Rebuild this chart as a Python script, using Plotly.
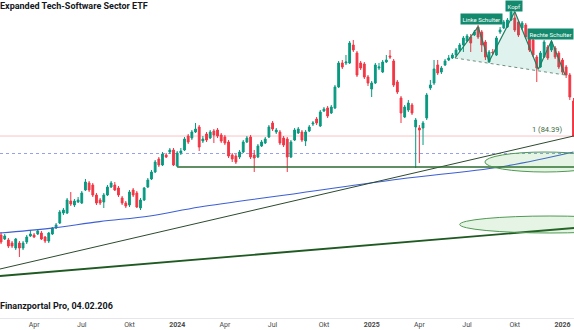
import pandas as pd
import plotly.graph_objects as go

# Weekly bars, Monday dates
weeks = pd.date_range("2023-01-30", periods=157, freq="7D")

opens = [
    59.65, 58.65, 58.4, 57.65, 56.4, 57.65, 56.4, 57.9, 59.4, 59.65,
    59.9, 60.15, 59.15, 58.15, 59.9, 61.4, 62.65, 65.15, 65.15, 68.15,
    67.15, 67.9, 67.65, 70.9, 72.65, 72.15, 69.65, 68.4, 67.9, 69.65,
    71.65, 72.15, 71.4, 68.9, 67.65, 67.15, 70.9, 70.15, 66.4, 68.4,
    71.65, 73.65, 75.4, 78.65, 77.15, 79.65, 80.4, 80.9, 76.9, 80.15,
    80.9, 84.4, 83.9, 85.4, 86.65, 83.15, 84.9, 83.9, 85.65, 85.9,
    84.65, 84.15, 82.9, 79.65, 79.4, 79.15, 80.4, 82.9, 84.15, 79.65,
    79.15, 81.9, 82.65, 84.15, 87.65, 85.4, 85.4, 83.9, 83.65, 79.15,
    83.4, 85.15, 85.4, 83.15, 85.65, 87.4, 88.65, 86.9, 90.65, 91.4,
    90.15, 91.4, 96.65, 102.65, 102.65, 102.65, 107.15, 105.15, 102.65, 102.4,
    99.15, 96.15, 97.65, 101.4, 100.4, 102.9, 104.4, 103.15, 97.9, 93.9,
    89.15, 90.9, 92.15, 86.65, 86.4, 86.4, 88.9, 96.4, 97.65, 102.15,
    100.4, 102.15, 103.4, 103.9, 104.65, 105.9, 107.15, 108.15, 109.15, 109.65,
    111.65, 110.4, 107.9, 102.9, 105.4, 104.65, 110.4, 111.4, 111.65, 113.4,
    113.9, 112.9, 111.4, 112.15, 109.15, 108.4, 104.15, 101.65, 104.15, 106.65,
    105.9, 106.4, 105.15, 103.4, 101.65, 99.65, 93.15,
]
highs = [
    60.4, 59.9, 58.9, 58.15, 58.9, 58.15, 58.15, 59.65, 60.9, 60.15,
    61.15, 60.65, 59.4, 60.4, 61.65, 62.65, 65.9, 66.4, 68.9, 70.4,
    68.65, 69.15, 70.65, 73.65, 73.15, 72.65, 70.15, 68.9, 70.15, 72.15,
    73.15, 72.9, 71.9, 69.4, 68.15, 70.9, 71.4, 70.65, 68.9, 71.65,
    73.9, 75.9, 78.4, 79.15, 80.4, 80.15, 81.4, 81.4, 80.65, 81.4,
    84.15, 84.9, 85.9, 87.65, 87.15, 84.4, 85.4, 85.9, 86.15, 86.4,
    85.15, 84.65, 83.4, 80.15, 79.9, 80.9, 83.4, 84.4, 84.65, 80.9,
    82.4, 83.4, 84.15, 87.15, 88.15, 86.4, 85.9, 84.4, 84.15, 83.4,
    86.4, 86.65, 85.9, 85.9, 87.15, 88.15, 89.15, 90.9, 91.65, 91.9,
    92.15, 97.15, 103.15, 103.4, 104.65, 108.15, 108.4, 105.65, 103.15, 102.9,
    99.65, 98.15, 102.65, 102.65, 103.4, 104.65, 105.9, 103.65, 98.4, 94.4,
    92.15, 93.4, 92.65, 88.9, 87.15, 88.15, 95.15, 98.4, 103.4, 103.4,
    101.9, 103.65, 104.65, 105.15, 106.4, 107.65, 109.4, 109.9, 109.9, 110.9,
    112.15, 110.9, 108.4, 105.9, 106.15, 109.4, 111.65, 113.4, 113.9, 115.9,
    115.4, 113.4, 113.15, 112.65, 109.65, 108.9, 104.65, 105.65, 108.4, 107.15,
    108.4, 106.9, 105.65, 103.9, 102.15, 100.15, 93.9,
]
lows = [
    57.4, 58.4, 56.4, 56.4, 55.9, 54.15, 55.9, 57.4, 59.15, 58.9,
    59.65, 58.4, 57.65, 57.65, 59.65, 61.15, 62.4, 64.65, 64.9, 66.9,
    66.65, 67.65, 67.4, 70.65, 70.4, 69.15, 67.15, 67.15, 66.4, 69.4,
    71.4, 70.65, 69.15, 67.15, 66.4, 66.65, 69.15, 66.4, 65.9, 68.15,
    71.4, 73.4, 75.15, 76.65, 76.9, 78.9, 79.9, 76.9, 76.65, 79.65,
    80.65, 82.4, 83.4, 85.15, 80.65, 82.65, 82.9, 83.65, 82.65, 83.9,
    82.65, 82.15, 78.9, 77.9, 77.4, 78.65, 80.15, 82.65, 78.65, 75.4,
    78.9, 81.65, 82.4, 83.9, 85.65, 84.9, 82.15, 81.65, 75.4, 78.9,
    83.15, 84.9, 82.9, 81.9, 85.4, 86.9, 87.15, 86.65, 90.4, 88.9,
    89.9, 91.15, 96.4, 101.15, 102.15, 102.4, 105.4, 99.15, 100.9, 98.65,
    96.9, 94.15, 97.4, 100.9, 100.15, 102.65, 103.65, 96.65, 94.9, 87.65,
    88.9, 90.4, 89.65, 76.4, 77.65, 82.15, 88.4, 95.9, 97.15, 99.65,
    99.9, 101.9, 103.15, 103.65, 104.15, 105.4, 105.4, 107.9, 105.4, 109.4,
    108.65, 105.4, 103.4, 102.65, 104.65, 104.4, 109.9, 111.15, 111.4, 113.15,
    110.4, 109.15, 110.9, 108.65, 105.4, 104.15, 97.9, 101.4, 103.9, 103.4,
    105.4, 103.65, 101.15, 99.9, 98.9, 93.4, 84.2,
]
closes = [
    57.9, 59.4, 56.9, 56.9, 58.65, 56.4, 57.65, 59.15, 59.9, 59.15,
    60.65, 58.65, 58.15, 60.15, 61.4, 62.15, 65.4, 65.9, 68.4, 67.4,
    68.15, 68.4, 70.15, 72.9, 70.9, 69.65, 67.65, 67.65, 69.65, 71.65,
    72.65, 70.9, 69.65, 67.65, 66.9, 70.4, 69.65, 66.65, 68.4, 71.4,
    73.4, 75.4, 77.9, 77.15, 79.9, 79.15, 80.9, 77.15, 80.15, 80.65,
    83.65, 82.9, 85.4, 86.15, 81.65, 83.65, 83.4, 85.4, 84.65, 84.4,
    83.15, 82.65, 79.4, 78.65, 77.9, 80.4, 82.9, 83.9, 79.15, 78.9,
    81.9, 82.9, 83.65, 86.65, 86.15, 85.9, 82.65, 82.15, 79.15, 82.9,
    85.9, 86.15, 83.4, 85.4, 86.65, 87.65, 87.65, 90.4, 91.15, 89.4,
    91.65, 96.65, 102.65, 101.65, 102.9, 107.65, 105.9, 99.65, 101.4, 99.15,
    97.65, 97.65, 102.15, 101.65, 102.9, 103.4, 104.15, 97.15, 95.4, 90.15,
    91.65, 92.65, 90.15, 88.4, 85.9, 87.65, 94.65, 97.15, 101.15, 100.15,
    101.4, 103.15, 103.9, 104.65, 105.9, 107.15, 108.9, 109.4, 107.65, 110.4,
    109.15, 107.15, 104.15, 105.4, 105.15, 108.9, 110.9, 112.9, 113.4, 115.4,
    110.9, 109.65, 112.65, 109.15, 105.9, 104.65, 101.4, 105.15, 107.9, 103.9,
    107.9, 104.15, 101.65, 100.4, 99.65, 94.15, 84.39,
]
assert len(opens) == len(highs) == len(lows) == len(closes) == len(weeks)

# Long moving average (blue)
ma_dates = ["2023-01-28", "2023-05-03", "2023-08-06", "2023-11-10", "2024-02-13",
            "2024-08-22", "2025-03-01", "2025-09-08", "2026-01-26"]
ma_values = [60.15, 61.3, 63.0, 64.4, 66.65, 70.15, 73.65, 76.65, 80.4]

# Trend lines
upper_trend_dates = ["2023-01-28", "2026-01-26"]
upper_trend_values = [51.15, 84.39]
lower_trend_dates = ["2023-01-28", "2026-01-27"]
lower_trend_values = [49.4, 61.4]

support_level = 76.65
support_start = "2024-01-01"
fib_level = 84.39
dotted_level = 80.03

# Head-and-shoulders pivots
hs_dates = ["2025-06-14", "2025-07-28", "2025-08-18", "2025-10-06",
            "2025-11-20", "2025-12-15", "2026-01-10"]
hs_values = [103.9, 111.7, 103.0, 115.5, 101.1, 108.2, 99.65]
hs_labels = ["Linke Schulter", "Kopf", "Rechte Schulter"]
hs_label_dates = ["2025-08-03", "2025-10-04", "2025-12-14"]
hs_label_values = [113.65, 117.0, 109.9]

# Highlight zones
zone_upper = dict(x0="2025-08-10", x1="2026-03-27", y0=75.4, y1=80.4)
zone_lower = dict(x0="2025-06-23", x1="2026-06-02", y0=60.15, y1=64.4)

tick_dates = ["2023-04-03", "2023-07-03", "2023-10-02", "2024-01-01", "2024-04-01",
              "2024-07-01", "2024-10-07", "2025-01-06", "2025-04-07", "2025-07-07",
              "2025-10-06", "2026-01-05"]
tick_text = ["Apr", "Jul", "Okt", "<b>2024</b>", "Apr", "Jul", "Okt", "<b>2025</b>",
             "Apr", "Jul", "Okt", "<b>2026</b>"]

UP = "#089981"
DOWN = "#f23645"
FONT = "Roboto"

fig = go.Figure()

fig.add_trace(go.Scatter(x=ma_dates, y=ma_values, mode="lines",
                         line=dict(color="#3d5fd6", width=1.1, shape="spline"),
                         hoverinfo="skip"))
fig.add_trace(go.Scatter(x=upper_trend_dates, y=upper_trend_values, mode="lines",
                         line=dict(color="#2c4a2e", width=1), hoverinfo="skip"))
fig.add_trace(go.Scatter(x=lower_trend_dates, y=lower_trend_values, mode="lines",
                         line=dict(color="#1f5a22", width=1.8), hoverinfo="skip"))

# Shaded pattern area
fig.add_trace(go.Scatter(x=hs_dates + [hs_dates[0]], y=hs_values + [hs_values[0]],
                         mode="lines", fill="toself",
                         fillcolor="rgba(38,166,130,0.14)",
                         line=dict(width=0), hoverinfo="skip"))

fig.add_trace(go.Candlestick(
    x=weeks, open=opens, high=highs, low=lows, close=closes,
    increasing=dict(line=dict(color=UP, width=1), fillcolor=UP),
    decreasing=dict(line=dict(color=DOWN, width=1), fillcolor=DOWN),
    whiskerwidth=0, hoverinfo="skip",
))

# Pattern zigzag and neckline
fig.add_trace(go.Scatter(x=hs_dates, y=hs_values, mode="lines",
                         line=dict(color="#1f7f62", width=1.2), hoverinfo="skip"))
fig.add_trace(go.Scatter(x=[hs_dates[0], hs_dates[-1]], y=[hs_values[0], hs_values[-1]],
                         mode="lines", line=dict(color="#6f8f7f", width=1, dash="dot"),
                         hoverinfo="skip"))

shapes = [
    dict(type="line", xref="paper", x0=0, x1=1, yref="y", y0=fib_level, y1=fib_level,
         line=dict(color="rgba(242,54,69,0.3)", width=1), layer="below"),
    dict(type="line", xref="paper", x0=0, x1=1, yref="y", y0=dotted_level, y1=dotted_level,
         line=dict(color="rgba(125,135,235,0.8)", width=1.2, dash="dot"), layer="below"),
    dict(type="line", xref="x", x0=support_start, x1="2026-01-27", yref="y",
         y0=support_level, y1=support_level, line=dict(color="#2d6a2f", width=1.6)),
    dict(type="circle", xref="x", yref="y", **zone_upper,
         fillcolor="rgba(76,175,80,0.14)", line=dict(color="#4f9a52", width=1)),
    dict(type="circle", xref="x", yref="y", **zone_lower,
         fillcolor="rgba(76,175,80,0.14)", line=dict(color="#4f9a52", width=1)),
]

annotations = [
    dict(text="<b>Expanded Tech-Software Sector ETF</b>", xref="paper", yref="paper",
         x=0, y=1, xanchor="left", yanchor="top", xshift=-2, yshift=1, showarrow=False,
         font=dict(family=FONT, size=9, color="#131722")),
    dict(text="<b>Finanzportal Pro, 04.02.206</b>", xref="paper", yref="paper",
         x=0, y=1 - 306 / 318, xanchor="left", yanchor="middle", xshift=-2, showarrow=False,
         font=dict(family=FONT, size=9, color="#131722")),
    dict(text=f"1 ({fib_level:.2f})", xref="x", yref="y", x="2026-01-07", y=fib_level,
         xanchor="right", yanchor="bottom", showarrow=False,
         font=dict(family=FONT, size=7.5, color="#3c6b3e")),
]
for t, d, v in zip(hs_labels, hs_label_dates, hs_label_values):
    annotations.append(dict(text=t, xref="x", yref="y", x=d, y=v, showarrow=False,
                            bgcolor="#138a6e", borderpad=1.5,
                            font=dict(family=FONT, size=6, color="white")))

fig.update_layout(
    width=574, height=330,
    margin=dict(l=0, r=0, t=0, b=12),
    paper_bgcolor="white", plot_bgcolor="white",
    showlegend=False,
    shapes=shapes, annotations=annotations,
    xaxis=dict(type="date", range=["2023-01-28", "2026-01-27"],
               rangeslider=dict(visible=False), showgrid=False, zeroline=False,
               tickvals=tick_dates, ticktext=tick_text, ticks="",
               tickfont=dict(family=FONT, size=7, color="#4a4a4a"),
               showline=True, linecolor="#e6e6ea", linewidth=1),
    yaxis=dict(range=[38.9, 118.4], visible=False, showgrid=False, zeroline=False),
)

fig.write_html("out.html")
